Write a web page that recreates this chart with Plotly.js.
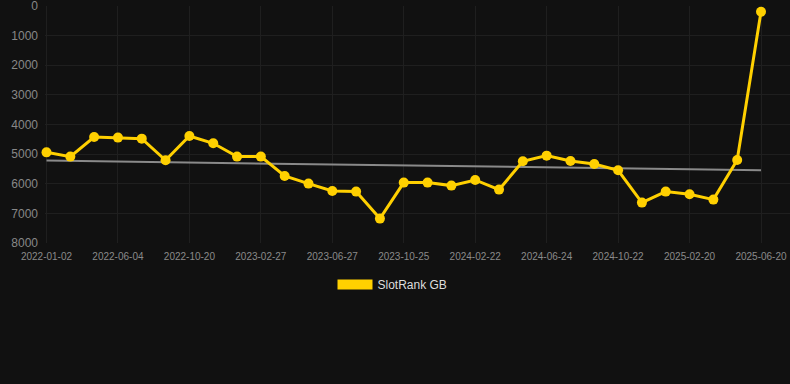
<!DOCTYPE html>
<html>
<head>
<meta charset="utf-8">
<script src="https://cdn.plot.ly/plotly-3.0.1.min.js"></script>
<style>
html,body{margin:0;padding:0;background:#111111;}
#chart{width:790px;height:384px;}
</style>
</head>
<body>
<div id="chart"></div>
<script>
const dates = [
  "2022-01-02","2022-02-22","2022-04-14","2022-06-04","2022-07-20","2022-09-04",
  "2022-10-20","2022-12-02","2023-01-14","2023-02-27","2023-04-08","2023-05-18",
  "2023-06-27","2023-08-06","2023-09-15","2023-10-25","2023-12-04","2024-01-13",
  "2024-02-22","2024-04-03","2024-05-14","2024-06-24","2024-08-03","2024-09-12",
  "2024-10-22","2024-12-01","2025-01-10","2025-02-20","2025-04-01","2025-05-11",
  "2025-06-20"
];
const rankGB = [
  4940, 5084, 4421, 4443, 4477, 5208, 4387, 4634, 5084, 5084,
  5737, 5996, 6243, 6265, 7177, 5962, 5962, 6063, 5872, 6198,
  5242, 5051, 5231, 5332, 5546, 6637, 6265, 6355, 6535, 5197,
  191
];
const tickLabels = ["2022-01-02","2022-06-04","2022-10-20","2023-02-27","2023-06-27",
  "2023-10-25","2024-02-22","2024-06-24","2024-10-22","2025-02-20","2025-06-20"];
const yTicks = [0,1000,2000,3000,4000,5000,6000,7000,8000];
const seriesName = "SlotRank GB";

// linear trend (least squares) over index
const n = rankGB.length;
let sx=0, sy=0, sxx=0, sxy=0;
rankGB.forEach((v,i)=>{sx+=i;sy+=v;sxx+=i*i;sxy+=i*v;});
const slope = (n*sxy - sx*sy)/(n*sxx - sx*sx);
const icpt = (sy - slope*sx)/n;
const trend = [icpt, icpt + slope*(n-1)];

const gold = "#FFD000";
const traces = [
  {
    x: [dates[0], dates[n-1]], y: trend, type: "scatter", mode: "lines",
    line: {color: "#8a8a8a", width: 2}, showlegend: false, hoverinfo: "skip"
  },
  {
    x: dates, y: rankGB, type: "scatter", mode: "lines+markers",
    line: {color: gold, width: 3}, marker: {color: gold, size: 10},
    showlegend: false, name: seriesName, cliponaxis: false
  },
  {
    x: [null], y: [null], type: "scatter", mode: "lines",
    line: {color: gold, width: 11}, name: seriesName, showlegend: true
  }
];

const pxPerIdx = (761-46.5)/30;
const plotW = 745;
const x0 = -1.5/pxPerIdx;

const layout = {
  width: 790, height: 384,
  paper_bgcolor: "#111111", plot_bgcolor: "#111111",
  margin: {l: 45, r: 0, t: 6, b: 141},
  font: {family: "Liberation Sans, Arial, sans-serif", color: "#888"},
  xaxis: {
    type: "category", categoryorder: "array", categoryarray: dates,
    range: [x0, x0 + plotW/pxPerIdx],
    tickvals: tickLabels, ticktext: tickLabels,
    showgrid: true, gridcolor: "#1f1f1f", gridwidth: 1,
    zeroline: false, showline: false, ticks: "",
    tickfont: {size: 10, color: "#8a8a8a"}, ticklabelstandoff: 6,
    tickangle: 0, ticklabeloverflow: "allow"
  },
  yaxis: {
    range: [8000.5, -0.5], tickvals: yTicks,
    showgrid: true, gridcolor: "#1f1f1f", gridwidth: 1,
    zeroline: false, showline: false, ticks: "",
    tickfont: {size: 12, color: "#888888"}, ticklabelstandoff: 6,
    ticklabeloverflow: "allow"
  },
  showlegend: true,
  legend: {
    orientation: "h", xref: "container", yref: "container",
    x: 0.5, xanchor: "center", y: 1 - 284.5/384, yanchor: "middle",
    font: {size: 12, color: "#dddddd"}, bgcolor: "rgba(0,0,0,0)"
  },
  hovermode: false
};

Plotly.newPlot("chart", traces, layout, {displayModeBar: false, staticPlot: true}).then(function(gd){
  // widen the legend swatch to a 40px bar
  gd.querySelectorAll(".legend .legendlines path").forEach(function(p){
    p.setAttribute("d", "M-9,0h44");
    p.style.strokeLinecap = "butt";
  });
});
</script>
</body>
</html>
